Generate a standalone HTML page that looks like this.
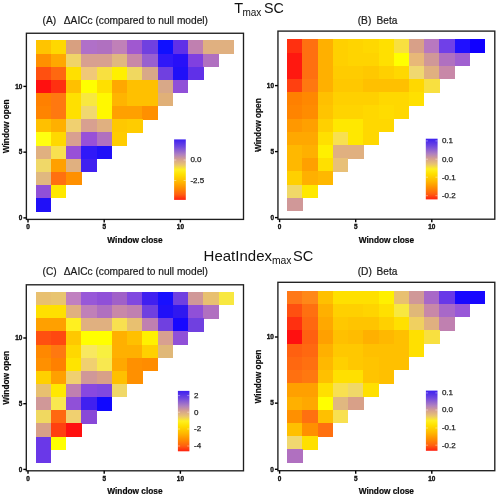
<!DOCTYPE html>
<html><head><meta charset="utf-8"><title>Heatmaps</title>
<style>
html,body{margin:0;padding:0;background:#fff;width:498px;height:497px;overflow:hidden;}
body{font-family:"Liberation Sans",sans-serif;}
svg{display:block;will-change:transform;}
</style></head><body>
<svg width="498" height="497" viewBox="0 0 498 497"><defs><linearGradient id="gA" x1="0" y1="0" x2="0" y2="1"><stop offset="0.0" stop-color="#3c20f0"/><stop offset="0.12" stop-color="#7048e0"/><stop offset="0.25" stop-color="#b080c0"/><stop offset="0.33" stop-color="#d4a090"/><stop offset="0.42" stop-color="#e8c470"/><stop offset="0.5" stop-color="#fff020"/><stop offset="0.58" stop-color="#ffe000"/><stop offset="0.7" stop-color="#ffb800"/><stop offset="0.8" stop-color="#ff9000"/><stop offset="0.91" stop-color="#ff6010"/><stop offset="1.0" stop-color="#ff2010"/></linearGradient><linearGradient id="gB" x1="0" y1="0" x2="0" y2="1"><stop offset="0.0" stop-color="#3c20f0"/><stop offset="0.12" stop-color="#7048e0"/><stop offset="0.25" stop-color="#b080c0"/><stop offset="0.33" stop-color="#d4a090"/><stop offset="0.42" stop-color="#e8c470"/><stop offset="0.5" stop-color="#fff020"/><stop offset="0.58" stop-color="#ffe000"/><stop offset="0.7" stop-color="#ffb800"/><stop offset="0.8" stop-color="#ff9000"/><stop offset="0.91" stop-color="#ff6010"/><stop offset="1.0" stop-color="#ff2010"/></linearGradient><linearGradient id="gC" x1="0" y1="0" x2="0" y2="1"><stop offset="0.0" stop-color="#3c20f0"/><stop offset="0.12" stop-color="#7048e0"/><stop offset="0.25" stop-color="#b080c0"/><stop offset="0.33" stop-color="#d4a090"/><stop offset="0.42" stop-color="#e8c470"/><stop offset="0.5" stop-color="#fff020"/><stop offset="0.58" stop-color="#ffe000"/><stop offset="0.7" stop-color="#ffb800"/><stop offset="0.8" stop-color="#ff9000"/><stop offset="0.91" stop-color="#ff6010"/><stop offset="1.0" stop-color="#ff2010"/></linearGradient><linearGradient id="gD" x1="0" y1="0" x2="0" y2="1"><stop offset="0.0" stop-color="#3c20f0"/><stop offset="0.12" stop-color="#7048e0"/><stop offset="0.25" stop-color="#b080c0"/><stop offset="0.33" stop-color="#d4a090"/><stop offset="0.42" stop-color="#e8c470"/><stop offset="0.5" stop-color="#fff020"/><stop offset="0.58" stop-color="#ffe000"/><stop offset="0.7" stop-color="#ffb800"/><stop offset="0.8" stop-color="#ff9000"/><stop offset="0.91" stop-color="#ff6010"/><stop offset="1.0" stop-color="#ff2010"/></linearGradient></defs><rect x="0" y="0" width="498" height="497" fill="#fff"/>
<text font-family="Liberation Sans, sans-serif" font-size="14.5" fill="#111" x="234.3" y="13.1">T</text>
<text font-family="Liberation Sans, sans-serif" font-size="10" fill="#111" x="242.4" y="15.7" textLength="18.9" lengthAdjust="spacingAndGlyphs">max</text>
<text font-family="Liberation Sans, sans-serif" font-size="14.3" fill="#111" x="264.0" y="13.1">SC</text>
<text font-family="Liberation Sans, sans-serif" font-size="14.3" fill="#111" x="203.6" y="261.2" textLength="68.4" lengthAdjust="spacingAndGlyphs">HeatIndex</text>
<text font-family="Liberation Sans, sans-serif" font-size="10" fill="#111" x="271.9" y="263.6" textLength="19.6" lengthAdjust="spacingAndGlyphs">max</text>
<text font-family="Liberation Sans, sans-serif" font-size="14.6" fill="#111" x="293.1" y="261.2">SC</text>
<g shape-rendering="crispEdges"><rect x="35.62" y="40.38" width="15.54" height="13.45" fill="#ffc400"/><rect x="50.86" y="40.38" width="15.54" height="13.45" fill="#ffd800"/><rect x="66.1" y="40.38" width="15.54" height="13.45" fill="#d8a080"/><rect x="81.34" y="40.38" width="15.54" height="13.45" fill="#b070c8"/><rect x="96.58" y="40.38" width="15.54" height="13.45" fill="#b070c0"/><rect x="111.82" y="40.38" width="15.54" height="13.45" fill="#c080b8"/><rect x="127.06" y="40.38" width="15.54" height="13.45" fill="#a058d0"/><rect x="142.3" y="40.38" width="15.54" height="13.45" fill="#7040e0"/><rect x="157.54" y="40.38" width="15.54" height="13.45" fill="#1010ff"/><rect x="172.78" y="40.38" width="15.54" height="13.45" fill="#6030e8"/><rect x="188.02" y="40.38" width="15.54" height="13.45" fill="#c080b0"/><rect x="203.26" y="40.38" width="15.54" height="13.45" fill="#e0b080"/><rect x="218.5" y="40.38" width="15.54" height="13.45" fill="#e0b080"/><rect x="35.62" y="53.53" width="15.54" height="13.45" fill="#ff9000"/><rect x="50.86" y="53.53" width="15.54" height="13.45" fill="#ffa800"/><rect x="66.1" y="53.53" width="15.54" height="13.45" fill="#f0d468"/><rect x="81.34" y="53.53" width="15.54" height="13.45" fill="#d8a090"/><rect x="96.58" y="53.53" width="15.54" height="13.45" fill="#d8a090"/><rect x="111.82" y="53.53" width="15.54" height="13.45" fill="#e0b880"/><rect x="127.06" y="53.53" width="15.54" height="13.45" fill="#c888a8"/><rect x="142.3" y="53.53" width="15.54" height="13.45" fill="#9860d0"/><rect x="157.54" y="53.53" width="15.54" height="13.45" fill="#3018f8"/><rect x="172.78" y="53.53" width="15.54" height="13.45" fill="#2810f8"/><rect x="188.02" y="53.53" width="15.54" height="13.45" fill="#8040e0"/><rect x="203.26" y="53.53" width="15.54" height="13.45" fill="#b070c0"/><rect x="35.62" y="66.68" width="15.54" height="13.45" fill="#ff5010"/><rect x="50.86" y="66.68" width="15.54" height="13.45" fill="#ff6810"/><rect x="66.1" y="66.68" width="15.54" height="13.45" fill="#ffe000"/><rect x="81.34" y="66.68" width="15.54" height="13.45" fill="#f0c878"/><rect x="96.58" y="66.68" width="15.54" height="13.45" fill="#f8e040"/><rect x="111.82" y="66.68" width="15.54" height="13.45" fill="#fff000"/><rect x="127.06" y="66.68" width="15.54" height="13.45" fill="#f0d860"/><rect x="142.3" y="66.68" width="15.54" height="13.45" fill="#d8a888"/><rect x="157.54" y="66.68" width="15.54" height="13.45" fill="#7040e0"/><rect x="172.78" y="66.68" width="15.54" height="13.45" fill="#2010f8"/><rect x="188.02" y="66.68" width="15.54" height="13.45" fill="#6030e8"/><rect x="35.62" y="79.82" width="15.54" height="13.45" fill="#ff1010"/><rect x="50.86" y="79.82" width="15.54" height="13.45" fill="#ff3010"/><rect x="66.1" y="79.82" width="15.54" height="13.45" fill="#ffc000"/><rect x="81.34" y="79.82" width="15.54" height="13.45" fill="#ffff00"/><rect x="96.58" y="79.82" width="15.54" height="13.45" fill="#ffe000"/><rect x="111.82" y="79.82" width="15.54" height="13.45" fill="#ffa800"/><rect x="127.06" y="79.82" width="15.54" height="13.45" fill="#ffc000"/><rect x="142.3" y="79.82" width="15.54" height="13.45" fill="#ffc000"/><rect x="157.54" y="79.82" width="15.54" height="13.45" fill="#d8a888"/><rect x="172.78" y="79.82" width="15.54" height="13.45" fill="#9050d8"/><rect x="35.62" y="92.98" width="15.54" height="13.45" fill="#ff8000"/><rect x="50.86" y="92.98" width="15.54" height="13.45" fill="#ff7810"/><rect x="66.1" y="92.98" width="15.54" height="13.45" fill="#ffe000"/><rect x="81.34" y="92.98" width="15.54" height="13.45" fill="#f8e840"/><rect x="96.58" y="92.98" width="15.54" height="13.45" fill="#fff800"/><rect x="111.82" y="92.98" width="15.54" height="13.45" fill="#ffb400"/><rect x="127.06" y="92.98" width="15.54" height="13.45" fill="#ffc000"/><rect x="142.3" y="92.98" width="15.54" height="13.45" fill="#ffc000"/><rect x="157.54" y="92.98" width="15.54" height="13.45" fill="#e0b078"/><rect x="35.62" y="106.12" width="15.54" height="13.45" fill="#ff8400"/><rect x="50.86" y="106.12" width="15.54" height="13.45" fill="#ff7810"/><rect x="66.1" y="106.12" width="15.54" height="13.45" fill="#ffe000"/><rect x="81.34" y="106.12" width="15.54" height="13.45" fill="#f0d870"/><rect x="96.58" y="106.12" width="15.54" height="13.45" fill="#fff800"/><rect x="111.82" y="106.12" width="15.54" height="13.45" fill="#ffa000"/><rect x="127.06" y="106.12" width="15.54" height="13.45" fill="#ffa000"/><rect x="142.3" y="106.12" width="15.54" height="13.45" fill="#ff9000"/><rect x="35.62" y="119.28" width="15.54" height="13.45" fill="#ffc000"/><rect x="50.86" y="119.28" width="15.54" height="13.45" fill="#ffb000"/><rect x="66.1" y="119.28" width="15.54" height="13.45" fill="#f0d070"/><rect x="81.34" y="119.28" width="15.54" height="13.45" fill="#d8a090"/><rect x="96.58" y="119.28" width="15.54" height="13.45" fill="#e0b080"/><rect x="111.82" y="119.28" width="15.54" height="13.45" fill="#ffc800"/><rect x="127.06" y="119.28" width="15.54" height="13.45" fill="#ffcc00"/><rect x="35.62" y="132.43" width="15.54" height="13.45" fill="#ffff10"/><rect x="50.86" y="132.43" width="15.54" height="13.45" fill="#ffd800"/><rect x="66.1" y="132.43" width="15.54" height="13.45" fill="#d8a090"/><rect x="81.34" y="132.43" width="15.54" height="13.45" fill="#9850d8"/><rect x="96.58" y="132.43" width="15.54" height="13.45" fill="#b070c0"/><rect x="111.82" y="132.43" width="15.54" height="13.45" fill="#ffcc00"/><rect x="35.62" y="145.57" width="15.54" height="13.45" fill="#e0b080"/><rect x="50.86" y="145.57" width="15.54" height="13.45" fill="#f8e050"/><rect x="66.1" y="145.57" width="15.54" height="13.45" fill="#9850d8"/><rect x="81.34" y="145.57" width="15.54" height="13.45" fill="#3018f8"/><rect x="96.58" y="145.57" width="15.54" height="13.45" fill="#2010f8"/><rect x="35.62" y="158.72" width="15.54" height="13.45" fill="#f0d868"/><rect x="50.86" y="158.72" width="15.54" height="13.45" fill="#ffa000"/><rect x="66.1" y="158.72" width="15.54" height="13.45" fill="#e0b080"/><rect x="81.34" y="158.72" width="15.54" height="13.45" fill="#4020f0"/><rect x="35.62" y="171.88" width="15.54" height="13.45" fill="#e0b880"/><rect x="50.86" y="171.88" width="15.54" height="13.45" fill="#ff7010"/><rect x="66.1" y="171.88" width="15.54" height="13.45" fill="#ff9000"/><rect x="35.62" y="185.03" width="15.54" height="13.45" fill="#9050d8"/><rect x="50.86" y="185.03" width="15.54" height="13.45" fill="#ffe800"/><rect x="35.62" y="198.18" width="15.54" height="13.45" fill="#2010f8"/></g>
<rect x="26.4" y="33.25" width="217.1" height="186.15" fill="none" stroke="#1e1e1e" stroke-width="1.35"/>
<line x1="23.4" y1="217.9" x2="26.4" y2="217.9" stroke="#000" stroke-width="1.4"/><line x1="28" y1="219.4" x2="28" y2="222.4" stroke="#000" stroke-width="1.4"/><line x1="23.4" y1="152.15" x2="26.4" y2="152.15" stroke="#000" stroke-width="1.4"/><line x1="104.2" y1="219.4" x2="104.2" y2="222.4" stroke="#000" stroke-width="1.4"/><line x1="23.4" y1="86.4" x2="26.4" y2="86.4" stroke="#000" stroke-width="1.4"/><line x1="180.4" y1="219.4" x2="180.4" y2="222.4" stroke="#000" stroke-width="1.4"/>
<text font-family="Liberation Sans, sans-serif" font-size="6.4" font-weight="bold" fill="#111" stroke="#111" stroke-width="0.35" text-anchor="end" x="22.4" y="220.2">0</text><text font-family="Liberation Sans, sans-serif" font-size="6.4" font-weight="bold" fill="#111" stroke="#111" stroke-width="0.35" text-anchor="middle" x="28" y="229.2">0</text><text font-family="Liberation Sans, sans-serif" font-size="6.4" font-weight="bold" fill="#111" stroke="#111" stroke-width="0.35" text-anchor="end" x="22.4" y="154.45">5</text><text font-family="Liberation Sans, sans-serif" font-size="6.4" font-weight="bold" fill="#111" stroke="#111" stroke-width="0.35" text-anchor="middle" x="104.2" y="229.2">5</text><text font-family="Liberation Sans, sans-serif" font-size="6.4" font-weight="bold" fill="#111" stroke="#111" stroke-width="0.35" text-anchor="end" x="22.4" y="88.7">10</text><text font-family="Liberation Sans, sans-serif" font-size="6.4" font-weight="bold" fill="#111" stroke="#111" stroke-width="0.35" text-anchor="middle" x="180.4" y="229.2">10</text>
<text font-family="Liberation Sans, sans-serif" font-size="8.3" font-weight="bold" fill="#0a0a0a" stroke="#0a0a0a" stroke-width="0.2" text-anchor="middle" x="134.95" y="243">Window close</text>
<text font-family="Liberation Sans, sans-serif" font-size="8.3" font-weight="bold" fill="#0a0a0a" stroke="#0a0a0a" stroke-width="0.2" text-anchor="middle" transform="translate(9.4,126.33) rotate(-90)" x="0" y="0">Window open</text>
<text font-family="Liberation Sans, sans-serif" font-size="10.2" fill="#1a1a1a" stroke="#1a1a1a" stroke-width="0.2" x="42.5" y="24.2">(A)</text>
<text font-family="Liberation Sans, sans-serif" font-size="10.1" fill="#1a1a1a" stroke="#1a1a1a" stroke-width="0.2" x="63.8" y="24.2" textLength="144.2" lengthAdjust="spacingAndGlyphs">ΔAICc (compared to null model)</text>
<rect x="174.1" y="139.4" width="11.7" height="60.5" fill="url(#gA)"/>
<text font-family="Liberation Sans, sans-serif" font-size="8" fill="#222" stroke="#222" stroke-width="0.25" x="190.4" y="162.4">0.0</text>
<line x1="174.1" y1="160" x2="176.3" y2="160" stroke="#fff" stroke-opacity="0.5" stroke-width="0.8"/>
<line x1="183.6" y1="160" x2="185.8" y2="160" stroke="#fff" stroke-opacity="0.5" stroke-width="0.8"/>
<text font-family="Liberation Sans, sans-serif" font-size="8" fill="#222" stroke="#222" stroke-width="0.25" x="190.4" y="182.9">-2.5</text>
<line x1="174.1" y1="180.5" x2="176.3" y2="180.5" stroke="#fff" stroke-opacity="0.5" stroke-width="0.8"/>
<line x1="183.6" y1="180.5" x2="185.8" y2="180.5" stroke="#fff" stroke-opacity="0.5" stroke-width="0.8"/>
<g shape-rendering="crispEdges"><rect x="287.21" y="39.4" width="15.52" height="13.5" fill="#ff3010"/><rect x="302.43" y="39.4" width="15.52" height="13.5" fill="#ff7010"/><rect x="317.65" y="39.4" width="15.52" height="13.5" fill="#ffb000"/><rect x="332.87" y="39.4" width="15.52" height="13.5" fill="#ffd000"/><rect x="348.09" y="39.4" width="15.52" height="13.5" fill="#ffd400"/><rect x="363.31" y="39.4" width="15.52" height="13.5" fill="#ffd800"/><rect x="378.53" y="39.4" width="15.52" height="13.5" fill="#ffe000"/><rect x="393.75" y="39.4" width="15.52" height="13.5" fill="#f8e040"/><rect x="408.97" y="39.4" width="15.52" height="13.5" fill="#d8a088"/><rect x="424.19" y="39.4" width="15.52" height="13.5" fill="#b878c0"/><rect x="439.41" y="39.4" width="15.52" height="13.5" fill="#7040e8"/><rect x="454.63" y="39.4" width="15.52" height="13.5" fill="#2010ff"/><rect x="469.85" y="39.4" width="15.52" height="13.5" fill="#1000ff"/><rect x="287.21" y="52.6" width="15.52" height="13.5" fill="#ff1810"/><rect x="302.43" y="52.6" width="15.52" height="13.5" fill="#ff7010"/><rect x="317.65" y="52.6" width="15.52" height="13.5" fill="#ffb000"/><rect x="332.87" y="52.6" width="15.52" height="13.5" fill="#ffd000"/><rect x="348.09" y="52.6" width="15.52" height="13.5" fill="#ffd400"/><rect x="363.31" y="52.6" width="15.52" height="13.5" fill="#ffd400"/><rect x="378.53" y="52.6" width="15.52" height="13.5" fill="#ffe000"/><rect x="393.75" y="52.6" width="15.52" height="13.5" fill="#ffff00"/><rect x="408.97" y="52.6" width="15.52" height="13.5" fill="#e8b878"/><rect x="424.19" y="52.6" width="15.52" height="13.5" fill="#d09898"/><rect x="439.41" y="52.6" width="15.52" height="13.5" fill="#b070c0"/><rect x="454.63" y="52.6" width="15.52" height="13.5" fill="#a060d0"/><rect x="287.21" y="65.8" width="15.52" height="13.5" fill="#ff1810"/><rect x="302.43" y="65.8" width="15.52" height="13.5" fill="#ff7010"/><rect x="317.65" y="65.8" width="15.52" height="13.5" fill="#ffb000"/><rect x="332.87" y="65.8" width="15.52" height="13.5" fill="#ffcc00"/><rect x="348.09" y="65.8" width="15.52" height="13.5" fill="#ffcc00"/><rect x="363.31" y="65.8" width="15.52" height="13.5" fill="#ffc800"/><rect x="378.53" y="65.8" width="15.52" height="13.5" fill="#ffd000"/><rect x="393.75" y="65.8" width="15.52" height="13.5" fill="#ffd800"/><rect x="408.97" y="65.8" width="15.52" height="13.5" fill="#f0d870"/><rect x="424.19" y="65.8" width="15.52" height="13.5" fill="#e0b080"/><rect x="439.41" y="65.8" width="15.52" height="13.5" fill="#c888a8"/><rect x="287.21" y="79" width="15.52" height="13.5" fill="#ff4010"/><rect x="302.43" y="79" width="15.52" height="13.5" fill="#ff7810"/><rect x="317.65" y="79" width="15.52" height="13.5" fill="#ffb000"/><rect x="332.87" y="79" width="15.52" height="13.5" fill="#ffc800"/><rect x="348.09" y="79" width="15.52" height="13.5" fill="#ffc800"/><rect x="363.31" y="79" width="15.52" height="13.5" fill="#ffc000"/><rect x="378.53" y="79" width="15.52" height="13.5" fill="#ffc000"/><rect x="393.75" y="79" width="15.52" height="13.5" fill="#ffc000"/><rect x="408.97" y="79" width="15.52" height="13.5" fill="#ffd800"/><rect x="424.19" y="79" width="15.52" height="13.5" fill="#f8e040"/><rect x="287.21" y="92.2" width="15.52" height="13.5" fill="#ff8000"/><rect x="302.43" y="92.2" width="15.52" height="13.5" fill="#ff8800"/><rect x="317.65" y="92.2" width="15.52" height="13.5" fill="#ffc000"/><rect x="332.87" y="92.2" width="15.52" height="13.5" fill="#ffd000"/><rect x="348.09" y="92.2" width="15.52" height="13.5" fill="#ffd000"/><rect x="363.31" y="92.2" width="15.52" height="13.5" fill="#ffd000"/><rect x="378.53" y="92.2" width="15.52" height="13.5" fill="#ffd800"/><rect x="393.75" y="92.2" width="15.52" height="13.5" fill="#ffd800"/><rect x="408.97" y="92.2" width="15.52" height="13.5" fill="#ffe000"/><rect x="287.21" y="105.4" width="15.52" height="13.5" fill="#ff8400"/><rect x="302.43" y="105.4" width="15.52" height="13.5" fill="#ff8c00"/><rect x="317.65" y="105.4" width="15.52" height="13.5" fill="#ffc400"/><rect x="332.87" y="105.4" width="15.52" height="13.5" fill="#ffd400"/><rect x="348.09" y="105.4" width="15.52" height="13.5" fill="#ffd400"/><rect x="363.31" y="105.4" width="15.52" height="13.5" fill="#ffd800"/><rect x="378.53" y="105.4" width="15.52" height="13.5" fill="#ffdc00"/><rect x="393.75" y="105.4" width="15.52" height="13.5" fill="#ffd800"/><rect x="287.21" y="118.6" width="15.52" height="13.5" fill="#ff9800"/><rect x="302.43" y="118.6" width="15.52" height="13.5" fill="#ffa000"/><rect x="317.65" y="118.6" width="15.52" height="13.5" fill="#ffd000"/><rect x="332.87" y="118.6" width="15.52" height="13.5" fill="#ffe800"/><rect x="348.09" y="118.6" width="15.52" height="13.5" fill="#ffe800"/><rect x="363.31" y="118.6" width="15.52" height="13.5" fill="#ffd800"/><rect x="378.53" y="118.6" width="15.52" height="13.5" fill="#ffd800"/><rect x="287.21" y="131.8" width="15.52" height="13.5" fill="#ffa800"/><rect x="302.43" y="131.8" width="15.52" height="13.5" fill="#ffa800"/><rect x="317.65" y="131.8" width="15.52" height="13.5" fill="#ffe000"/><rect x="332.87" y="131.8" width="15.52" height="13.5" fill="#f8e050"/><rect x="348.09" y="131.8" width="15.52" height="13.5" fill="#ffe800"/><rect x="363.31" y="131.8" width="15.52" height="13.5" fill="#ffd800"/><rect x="287.21" y="145" width="15.52" height="13.5" fill="#ffb800"/><rect x="302.43" y="145" width="15.52" height="13.5" fill="#ffb000"/><rect x="317.65" y="145" width="15.52" height="13.5" fill="#fff000"/><rect x="332.87" y="145" width="15.52" height="13.5" fill="#e0b080"/><rect x="348.09" y="145" width="15.52" height="13.5" fill="#e0b080"/><rect x="287.21" y="158.2" width="15.52" height="13.5" fill="#ffb800"/><rect x="302.43" y="158.2" width="15.52" height="13.5" fill="#ffa000"/><rect x="317.65" y="158.2" width="15.52" height="13.5" fill="#ffe000"/><rect x="332.87" y="158.2" width="15.52" height="13.5" fill="#e8c078"/><rect x="287.21" y="171.4" width="15.52" height="13.5" fill="#ffd000"/><rect x="302.43" y="171.4" width="15.52" height="13.5" fill="#ffb000"/><rect x="317.65" y="171.4" width="15.52" height="13.5" fill="#ffb800"/><rect x="287.21" y="184.6" width="15.52" height="13.5" fill="#f0d868"/><rect x="302.43" y="184.6" width="15.52" height="13.5" fill="#ffe800"/><rect x="287.21" y="197.8" width="15.52" height="13.5" fill="#d09898"/></g>
<rect x="277.95" y="31.1" width="216.85" height="188.1" fill="none" stroke="#1e1e1e" stroke-width="1.35"/>
<line x1="274.95" y1="217.6" x2="277.95" y2="217.6" stroke="#000" stroke-width="1.4"/><line x1="279.6" y1="219.2" x2="279.6" y2="222.2" stroke="#000" stroke-width="1.4"/><line x1="274.95" y1="151.6" x2="277.95" y2="151.6" stroke="#000" stroke-width="1.4"/><line x1="355.7" y1="219.2" x2="355.7" y2="222.2" stroke="#000" stroke-width="1.4"/><line x1="274.95" y1="85.6" x2="277.95" y2="85.6" stroke="#000" stroke-width="1.4"/><line x1="431.8" y1="219.2" x2="431.8" y2="222.2" stroke="#000" stroke-width="1.4"/>
<text font-family="Liberation Sans, sans-serif" font-size="6.4" font-weight="bold" fill="#111" stroke="#111" stroke-width="0.35" text-anchor="end" x="273.95" y="219.9">0</text><text font-family="Liberation Sans, sans-serif" font-size="6.4" font-weight="bold" fill="#111" stroke="#111" stroke-width="0.35" text-anchor="middle" x="279.6" y="229">0</text><text font-family="Liberation Sans, sans-serif" font-size="6.4" font-weight="bold" fill="#111" stroke="#111" stroke-width="0.35" text-anchor="end" x="273.95" y="153.9">5</text><text font-family="Liberation Sans, sans-serif" font-size="6.4" font-weight="bold" fill="#111" stroke="#111" stroke-width="0.35" text-anchor="middle" x="355.7" y="229">5</text><text font-family="Liberation Sans, sans-serif" font-size="6.4" font-weight="bold" fill="#111" stroke="#111" stroke-width="0.35" text-anchor="end" x="273.95" y="87.9">10</text><text font-family="Liberation Sans, sans-serif" font-size="6.4" font-weight="bold" fill="#111" stroke="#111" stroke-width="0.35" text-anchor="middle" x="431.8" y="229">10</text>
<text font-family="Liberation Sans, sans-serif" font-size="8.3" font-weight="bold" fill="#0a0a0a" stroke="#0a0a0a" stroke-width="0.2" text-anchor="middle" x="386.38" y="242.8">Window close</text>
<text font-family="Liberation Sans, sans-serif" font-size="8.3" font-weight="bold" fill="#0a0a0a" stroke="#0a0a0a" stroke-width="0.2" text-anchor="middle" transform="translate(260.95,125.15) rotate(-90)" x="0" y="0">Window open</text>
<text font-family="Liberation Sans, sans-serif" font-size="10.2" fill="#1a1a1a" stroke="#1a1a1a" stroke-width="0.2" x="357.7" y="23.6">(B)</text>
<text font-family="Liberation Sans, sans-serif" font-size="10.1" fill="#1a1a1a" stroke="#1a1a1a" stroke-width="0.2" x="376.6" y="23.6" >Beta</text>
<rect x="425.8" y="138.7" width="11.8" height="60.7" fill="url(#gB)"/>
<text font-family="Liberation Sans, sans-serif" font-size="8" fill="#222" stroke="#222" stroke-width="0.25" x="441.9" y="143.3">0.1</text>
<line x1="425.8" y1="140.9" x2="428" y2="140.9" stroke="#fff" stroke-opacity="0.5" stroke-width="0.8"/>
<line x1="435.4" y1="140.9" x2="437.6" y2="140.9" stroke="#fff" stroke-opacity="0.5" stroke-width="0.8"/>
<text font-family="Liberation Sans, sans-serif" font-size="8" fill="#222" stroke="#222" stroke-width="0.25" x="441.9" y="161.6">0.0</text>
<line x1="425.8" y1="159.2" x2="428" y2="159.2" stroke="#fff" stroke-opacity="0.5" stroke-width="0.8"/>
<line x1="435.4" y1="159.2" x2="437.6" y2="159.2" stroke="#fff" stroke-opacity="0.5" stroke-width="0.8"/>
<text font-family="Liberation Sans, sans-serif" font-size="8" fill="#222" stroke="#222" stroke-width="0.25" x="441.9" y="179.6">-0.1</text>
<line x1="425.8" y1="177.2" x2="428" y2="177.2" stroke="#fff" stroke-opacity="0.5" stroke-width="0.8"/>
<line x1="435.4" y1="177.2" x2="437.6" y2="177.2" stroke="#fff" stroke-opacity="0.5" stroke-width="0.8"/>
<text font-family="Liberation Sans, sans-serif" font-size="8" fill="#222" stroke="#222" stroke-width="0.25" x="441.9" y="198.1">-0.2</text>
<line x1="425.8" y1="195.7" x2="428" y2="195.7" stroke="#fff" stroke-opacity="0.5" stroke-width="0.8"/>
<line x1="435.4" y1="195.7" x2="437.6" y2="195.7" stroke="#fff" stroke-opacity="0.5" stroke-width="0.8"/>
<g shape-rendering="crispEdges"><rect x="35.62" y="292.01" width="15.54" height="13.44" fill="#e8c070"/><rect x="50.86" y="292.01" width="15.54" height="13.44" fill="#e8c470"/><rect x="66.1" y="292.01" width="15.54" height="13.44" fill="#c080c0"/><rect x="81.34" y="292.01" width="15.54" height="13.44" fill="#9858d8"/><rect x="96.58" y="292.01" width="15.54" height="13.44" fill="#9050d8"/><rect x="111.82" y="292.01" width="15.54" height="13.44" fill="#a060c8"/><rect x="127.06" y="292.01" width="15.54" height="13.44" fill="#8048e0"/><rect x="142.3" y="292.01" width="15.54" height="13.44" fill="#4020f0"/><rect x="157.54" y="292.01" width="15.54" height="13.44" fill="#1810ff"/><rect x="172.78" y="292.01" width="15.54" height="13.44" fill="#7040e0"/><rect x="188.02" y="292.01" width="15.54" height="13.44" fill="#d09898"/><rect x="203.26" y="292.01" width="15.54" height="13.44" fill="#e8c070"/><rect x="218.5" y="292.01" width="15.54" height="13.44" fill="#f8e840"/><rect x="35.62" y="305.15" width="15.54" height="13.44" fill="#ffe000"/><rect x="50.86" y="305.15" width="15.54" height="13.44" fill="#ffe000"/><rect x="66.1" y="305.15" width="15.54" height="13.44" fill="#e0b080"/><rect x="81.34" y="305.15" width="15.54" height="13.44" fill="#c080b8"/><rect x="96.58" y="305.15" width="15.54" height="13.44" fill="#b070c0"/><rect x="111.82" y="305.15" width="15.54" height="13.44" fill="#c888a8"/><rect x="127.06" y="305.15" width="15.54" height="13.44" fill="#c080b0"/><rect x="142.3" y="305.15" width="15.54" height="13.44" fill="#7040e0"/><rect x="157.54" y="305.15" width="15.54" height="13.44" fill="#2010f8"/><rect x="172.78" y="305.15" width="15.54" height="13.44" fill="#3018f0"/><rect x="188.02" y="305.15" width="15.54" height="13.44" fill="#9050d8"/><rect x="203.26" y="305.15" width="15.54" height="13.44" fill="#b070c0"/><rect x="35.62" y="318.29" width="15.54" height="13.44" fill="#ffa000"/><rect x="50.86" y="318.29" width="15.54" height="13.44" fill="#ffa000"/><rect x="66.1" y="318.29" width="15.54" height="13.44" fill="#fff020"/><rect x="81.34" y="318.29" width="15.54" height="13.44" fill="#e0b080"/><rect x="96.58" y="318.29" width="15.54" height="13.44" fill="#e0b080"/><rect x="111.82" y="318.29" width="15.54" height="13.44" fill="#f8e050"/><rect x="127.06" y="318.29" width="15.54" height="13.44" fill="#e8c070"/><rect x="142.3" y="318.29" width="15.54" height="13.44" fill="#c080b0"/><rect x="157.54" y="318.29" width="15.54" height="13.44" fill="#7040e0"/><rect x="172.78" y="318.29" width="15.54" height="13.44" fill="#1808ff"/><rect x="188.02" y="318.29" width="15.54" height="13.44" fill="#7040e0"/><rect x="35.62" y="331.43" width="15.54" height="13.44" fill="#ff5010"/><rect x="50.86" y="331.43" width="15.54" height="13.44" fill="#ff4810"/><rect x="66.1" y="331.43" width="15.54" height="13.44" fill="#ffc800"/><rect x="81.34" y="331.43" width="15.54" height="13.44" fill="#ffff00"/><rect x="96.58" y="331.43" width="15.54" height="13.44" fill="#ffff00"/><rect x="111.82" y="331.43" width="15.54" height="13.44" fill="#ffb000"/><rect x="127.06" y="331.43" width="15.54" height="13.44" fill="#ffc000"/><rect x="142.3" y="331.43" width="15.54" height="13.44" fill="#fff000"/><rect x="157.54" y="331.43" width="15.54" height="13.44" fill="#d8a090"/><rect x="172.78" y="331.43" width="15.54" height="13.44" fill="#9050d8"/><rect x="35.62" y="344.57" width="15.54" height="13.44" fill="#ff8800"/><rect x="50.86" y="344.57" width="15.54" height="13.44" fill="#ff7810"/><rect x="66.1" y="344.57" width="15.54" height="13.44" fill="#ffd800"/><rect x="81.34" y="344.57" width="15.54" height="13.44" fill="#f8e860"/><rect x="96.58" y="344.57" width="15.54" height="13.44" fill="#f8f040"/><rect x="111.82" y="344.57" width="15.54" height="13.44" fill="#ffb000"/><rect x="127.06" y="344.57" width="15.54" height="13.44" fill="#ffb000"/><rect x="142.3" y="344.57" width="15.54" height="13.44" fill="#ffd000"/><rect x="157.54" y="344.57" width="15.54" height="13.44" fill="#e0b878"/><rect x="35.62" y="357.71" width="15.54" height="13.44" fill="#ff9000"/><rect x="50.86" y="357.71" width="15.54" height="13.44" fill="#ff8000"/><rect x="66.1" y="357.71" width="15.54" height="13.44" fill="#ffe400"/><rect x="81.34" y="357.71" width="15.54" height="13.44" fill="#f0d070"/><rect x="96.58" y="357.71" width="15.54" height="13.44" fill="#f8e850"/><rect x="111.82" y="357.71" width="15.54" height="13.44" fill="#ffa800"/><rect x="127.06" y="357.71" width="15.54" height="13.44" fill="#ff9000"/><rect x="142.3" y="357.71" width="15.54" height="13.44" fill="#ff8c00"/><rect x="35.62" y="370.85" width="15.54" height="13.44" fill="#ffd000"/><rect x="50.86" y="370.85" width="15.54" height="13.44" fill="#ffa000"/><rect x="66.1" y="370.85" width="15.54" height="13.44" fill="#f0d070"/><rect x="81.34" y="370.85" width="15.54" height="13.44" fill="#d09898"/><rect x="96.58" y="370.85" width="15.54" height="13.44" fill="#d8a088"/><rect x="111.82" y="370.85" width="15.54" height="13.44" fill="#ffc000"/><rect x="127.06" y="370.85" width="15.54" height="13.44" fill="#ff9000"/><rect x="35.62" y="383.99" width="15.54" height="13.44" fill="#e8c070"/><rect x="50.86" y="383.99" width="15.54" height="13.44" fill="#ffe800"/><rect x="66.1" y="383.99" width="15.54" height="13.44" fill="#c080b0"/><rect x="81.34" y="383.99" width="15.54" height="13.44" fill="#8848e0"/><rect x="96.58" y="383.99" width="15.54" height="13.44" fill="#8048e0"/><rect x="111.82" y="383.99" width="15.54" height="13.44" fill="#f0d868"/><rect x="35.62" y="397.13" width="15.54" height="13.44" fill="#d09898"/><rect x="50.86" y="397.13" width="15.54" height="13.44" fill="#f8e850"/><rect x="66.1" y="397.13" width="15.54" height="13.44" fill="#9050d8"/><rect x="81.34" y="397.13" width="15.54" height="13.44" fill="#4020f0"/><rect x="96.58" y="397.13" width="15.54" height="13.44" fill="#1008ff"/><rect x="35.62" y="410.27" width="15.54" height="13.44" fill="#f0d860"/><rect x="50.86" y="410.27" width="15.54" height="13.44" fill="#ff6810"/><rect x="66.1" y="410.27" width="15.54" height="13.44" fill="#f0d070"/><rect x="81.34" y="410.27" width="15.54" height="13.44" fill="#8848d8"/><rect x="35.62" y="423.41" width="15.54" height="13.44" fill="#d8a088"/><rect x="50.86" y="423.41" width="15.54" height="13.44" fill="#ff4010"/><rect x="66.1" y="423.41" width="15.54" height="13.44" fill="#ff1010"/><rect x="35.62" y="436.55" width="15.54" height="13.44" fill="#6a38e8"/><rect x="50.86" y="436.55" width="15.54" height="13.44" fill="#ffff00"/><rect x="35.62" y="449.69" width="15.54" height="13.44" fill="#6a38e8"/></g>
<rect x="26.3" y="284.8" width="217.2" height="186" fill="none" stroke="#1e1e1e" stroke-width="1.35"/>
<line x1="23.3" y1="469.4" x2="26.3" y2="469.4" stroke="#000" stroke-width="1.4"/><line x1="28" y1="470.8" x2="28" y2="473.8" stroke="#000" stroke-width="1.4"/><line x1="23.3" y1="403.7" x2="26.3" y2="403.7" stroke="#000" stroke-width="1.4"/><line x1="104.2" y1="470.8" x2="104.2" y2="473.8" stroke="#000" stroke-width="1.4"/><line x1="23.3" y1="338" x2="26.3" y2="338" stroke="#000" stroke-width="1.4"/><line x1="180.4" y1="470.8" x2="180.4" y2="473.8" stroke="#000" stroke-width="1.4"/>
<text font-family="Liberation Sans, sans-serif" font-size="6.4" font-weight="bold" fill="#111" stroke="#111" stroke-width="0.35" text-anchor="end" x="22.3" y="471.7">0</text><text font-family="Liberation Sans, sans-serif" font-size="6.4" font-weight="bold" fill="#111" stroke="#111" stroke-width="0.35" text-anchor="middle" x="28" y="480.6">0</text><text font-family="Liberation Sans, sans-serif" font-size="6.4" font-weight="bold" fill="#111" stroke="#111" stroke-width="0.35" text-anchor="end" x="22.3" y="406">5</text><text font-family="Liberation Sans, sans-serif" font-size="6.4" font-weight="bold" fill="#111" stroke="#111" stroke-width="0.35" text-anchor="middle" x="104.2" y="480.6">5</text><text font-family="Liberation Sans, sans-serif" font-size="6.4" font-weight="bold" fill="#111" stroke="#111" stroke-width="0.35" text-anchor="end" x="22.3" y="340.3">10</text><text font-family="Liberation Sans, sans-serif" font-size="6.4" font-weight="bold" fill="#111" stroke="#111" stroke-width="0.35" text-anchor="middle" x="180.4" y="480.6">10</text>
<text font-family="Liberation Sans, sans-serif" font-size="8.3" font-weight="bold" fill="#0a0a0a" stroke="#0a0a0a" stroke-width="0.2" text-anchor="middle" x="134.9" y="494.4">Window close</text>
<text font-family="Liberation Sans, sans-serif" font-size="8.3" font-weight="bold" fill="#0a0a0a" stroke="#0a0a0a" stroke-width="0.2" text-anchor="middle" transform="translate(9.3,377.8) rotate(-90)" x="0" y="0">Window open</text>
<text font-family="Liberation Sans, sans-serif" font-size="10.2" fill="#1a1a1a" stroke="#1a1a1a" stroke-width="0.2" x="42.5" y="275.4">(C)</text>
<text font-family="Liberation Sans, sans-serif" font-size="10.1" fill="#1a1a1a" stroke="#1a1a1a" stroke-width="0.2" x="63.8" y="275.4" textLength="144.2" lengthAdjust="spacingAndGlyphs">ΔAICc (compared to null model)</text>
<rect x="177.9" y="390.9" width="11.5" height="60.4" fill="url(#gC)"/>
<text font-family="Liberation Sans, sans-serif" font-size="8" fill="#222" stroke="#222" stroke-width="0.25" x="194" y="398">2</text>
<line x1="177.9" y1="395.6" x2="180.1" y2="395.6" stroke="#fff" stroke-opacity="0.5" stroke-width="0.8"/>
<line x1="187.2" y1="395.6" x2="189.4" y2="395.6" stroke="#fff" stroke-opacity="0.5" stroke-width="0.8"/>
<text font-family="Liberation Sans, sans-serif" font-size="8" fill="#222" stroke="#222" stroke-width="0.25" x="194" y="414.6">0</text>
<line x1="177.9" y1="412.2" x2="180.1" y2="412.2" stroke="#fff" stroke-opacity="0.5" stroke-width="0.8"/>
<line x1="187.2" y1="412.2" x2="189.4" y2="412.2" stroke="#fff" stroke-opacity="0.5" stroke-width="0.8"/>
<text font-family="Liberation Sans, sans-serif" font-size="8" fill="#222" stroke="#222" stroke-width="0.25" x="194" y="431.4">-2</text>
<line x1="177.9" y1="429" x2="180.1" y2="429" stroke="#fff" stroke-opacity="0.5" stroke-width="0.8"/>
<line x1="187.2" y1="429" x2="189.4" y2="429" stroke="#fff" stroke-opacity="0.5" stroke-width="0.8"/>
<text font-family="Liberation Sans, sans-serif" font-size="8" fill="#222" stroke="#222" stroke-width="0.25" x="194" y="448.4">-4</text>
<line x1="177.9" y1="446" x2="180.1" y2="446" stroke="#fff" stroke-opacity="0.5" stroke-width="0.8"/>
<line x1="187.2" y1="446" x2="189.4" y2="446" stroke="#fff" stroke-opacity="0.5" stroke-width="0.8"/>
<g shape-rendering="crispEdges"><rect x="287.21" y="290.69" width="15.52" height="13.53" fill="#ff7818"/><rect x="302.43" y="290.69" width="15.52" height="13.53" fill="#ff8818"/><rect x="317.65" y="290.69" width="15.52" height="13.53" fill="#ffc000"/><rect x="332.87" y="290.69" width="15.52" height="13.53" fill="#ffe000"/><rect x="348.09" y="290.69" width="15.52" height="13.53" fill="#ffe000"/><rect x="363.31" y="290.69" width="15.52" height="13.53" fill="#ffe000"/><rect x="378.53" y="290.69" width="15.52" height="13.53" fill="#fff000"/><rect x="393.75" y="290.69" width="15.52" height="13.53" fill="#e8c070"/><rect x="408.97" y="290.69" width="15.52" height="13.53" fill="#d09898"/><rect x="424.19" y="290.69" width="15.52" height="13.53" fill="#a868c8"/><rect x="439.41" y="290.69" width="15.52" height="13.53" fill="#6838e8"/><rect x="454.63" y="290.69" width="15.52" height="13.53" fill="#1808ff"/><rect x="469.85" y="290.69" width="15.52" height="13.53" fill="#1808ff"/><rect x="287.21" y="303.93" width="15.52" height="13.53" fill="#ff5010"/><rect x="302.43" y="303.93" width="15.52" height="13.53" fill="#ff7010"/><rect x="317.65" y="303.93" width="15.52" height="13.53" fill="#ffb000"/><rect x="332.87" y="303.93" width="15.52" height="13.53" fill="#ffd000"/><rect x="348.09" y="303.93" width="15.52" height="13.53" fill="#ffd000"/><rect x="363.31" y="303.93" width="15.52" height="13.53" fill="#ffd400"/><rect x="378.53" y="303.93" width="15.52" height="13.53" fill="#ffe000"/><rect x="393.75" y="303.93" width="15.52" height="13.53" fill="#f8e840"/><rect x="408.97" y="303.93" width="15.52" height="13.53" fill="#e0b878"/><rect x="424.19" y="303.93" width="15.52" height="13.53" fill="#c888a8"/><rect x="439.41" y="303.93" width="15.52" height="13.53" fill="#a868c8"/><rect x="454.63" y="303.93" width="15.52" height="13.53" fill="#9858d8"/><rect x="287.21" y="317.15" width="15.52" height="13.53" fill="#ff3010"/><rect x="302.43" y="317.15" width="15.52" height="13.53" fill="#ff6810"/><rect x="317.65" y="317.15" width="15.52" height="13.53" fill="#ffa800"/><rect x="332.87" y="317.15" width="15.52" height="13.53" fill="#ffc800"/><rect x="348.09" y="317.15" width="15.52" height="13.53" fill="#ffc400"/><rect x="363.31" y="317.15" width="15.52" height="13.53" fill="#ffc400"/><rect x="378.53" y="317.15" width="15.52" height="13.53" fill="#ffd000"/><rect x="393.75" y="317.15" width="15.52" height="13.53" fill="#ffe000"/><rect x="408.97" y="317.15" width="15.52" height="13.53" fill="#f0d060"/><rect x="424.19" y="317.15" width="15.52" height="13.53" fill="#e0b080"/><rect x="439.41" y="317.15" width="15.52" height="13.53" fill="#c080b0"/><rect x="287.21" y="330.38" width="15.52" height="13.53" fill="#ff1010"/><rect x="302.43" y="330.38" width="15.52" height="13.53" fill="#ff6010"/><rect x="317.65" y="330.38" width="15.52" height="13.53" fill="#ffa000"/><rect x="332.87" y="330.38" width="15.52" height="13.53" fill="#ffc000"/><rect x="348.09" y="330.38" width="15.52" height="13.53" fill="#ffbc00"/><rect x="363.31" y="330.38" width="15.52" height="13.53" fill="#ffb000"/><rect x="378.53" y="330.38" width="15.52" height="13.53" fill="#ffb800"/><rect x="393.75" y="330.38" width="15.52" height="13.53" fill="#ffc000"/><rect x="408.97" y="330.38" width="15.52" height="13.53" fill="#ffe000"/><rect x="424.19" y="330.38" width="15.52" height="13.53" fill="#f8e040"/><rect x="287.21" y="343.62" width="15.52" height="13.53" fill="#ff6010"/><rect x="302.43" y="343.62" width="15.52" height="13.53" fill="#ff6810"/><rect x="317.65" y="343.62" width="15.52" height="13.53" fill="#ffb000"/><rect x="332.87" y="343.62" width="15.52" height="13.53" fill="#ffc800"/><rect x="348.09" y="343.62" width="15.52" height="13.53" fill="#ffc800"/><rect x="363.31" y="343.62" width="15.52" height="13.53" fill="#ffc000"/><rect x="378.53" y="343.62" width="15.52" height="13.53" fill="#ffc000"/><rect x="393.75" y="343.62" width="15.52" height="13.53" fill="#ffc000"/><rect x="408.97" y="343.62" width="15.52" height="13.53" fill="#ffe000"/><rect x="287.21" y="356.85" width="15.52" height="13.53" fill="#ff6810"/><rect x="302.43" y="356.85" width="15.52" height="13.53" fill="#ff7010"/><rect x="317.65" y="356.85" width="15.52" height="13.53" fill="#ffb800"/><rect x="332.87" y="356.85" width="15.52" height="13.53" fill="#ffd000"/><rect x="348.09" y="356.85" width="15.52" height="13.53" fill="#ffc800"/><rect x="363.31" y="356.85" width="15.52" height="13.53" fill="#ffc400"/><rect x="378.53" y="356.85" width="15.52" height="13.53" fill="#ffc000"/><rect x="393.75" y="356.85" width="15.52" height="13.53" fill="#ffc000"/><rect x="287.21" y="370.07" width="15.52" height="13.53" fill="#ff7010"/><rect x="302.43" y="370.07" width="15.52" height="13.53" fill="#ff7810"/><rect x="317.65" y="370.07" width="15.52" height="13.53" fill="#ffc000"/><rect x="332.87" y="370.07" width="15.52" height="13.53" fill="#ffe000"/><rect x="348.09" y="370.07" width="15.52" height="13.53" fill="#ffe000"/><rect x="363.31" y="370.07" width="15.52" height="13.53" fill="#ffc400"/><rect x="378.53" y="370.07" width="15.52" height="13.53" fill="#ffc000"/><rect x="287.21" y="383.31" width="15.52" height="13.53" fill="#ffa000"/><rect x="302.43" y="383.31" width="15.52" height="13.53" fill="#ffa000"/><rect x="317.65" y="383.31" width="15.52" height="13.53" fill="#ffe000"/><rect x="332.87" y="383.31" width="15.52" height="13.53" fill="#f8e050"/><rect x="348.09" y="383.31" width="15.52" height="13.53" fill="#f0d868"/><rect x="363.31" y="383.31" width="15.52" height="13.53" fill="#ffe000"/><rect x="287.21" y="396.54" width="15.52" height="13.53" fill="#ffb000"/><rect x="302.43" y="396.54" width="15.52" height="13.53" fill="#ffa800"/><rect x="317.65" y="396.54" width="15.52" height="13.53" fill="#ffff00"/><rect x="332.87" y="396.54" width="15.52" height="13.53" fill="#e0b880"/><rect x="348.09" y="396.54" width="15.52" height="13.53" fill="#d8a088"/><rect x="287.21" y="409.76" width="15.52" height="13.53" fill="#ff9000"/><rect x="302.43" y="409.76" width="15.52" height="13.53" fill="#ff7010"/><rect x="317.65" y="409.76" width="15.52" height="13.53" fill="#ffc000"/><rect x="332.87" y="409.76" width="15.52" height="13.53" fill="#f8e050"/><rect x="287.21" y="423" width="15.52" height="13.53" fill="#ffc000"/><rect x="302.43" y="423" width="15.52" height="13.53" fill="#ff9000"/><rect x="317.65" y="423" width="15.52" height="13.53" fill="#ff7010"/><rect x="287.21" y="436.23" width="15.52" height="13.53" fill="#f0d870"/><rect x="302.43" y="436.23" width="15.52" height="13.53" fill="#ffe000"/><rect x="287.21" y="449.46" width="15.52" height="13.53" fill="#b070c0"/></g>
<rect x="277.9" y="282.3" width="216.9" height="188.4" fill="none" stroke="#1e1e1e" stroke-width="1.35"/>
<line x1="274.9" y1="469.3" x2="277.9" y2="469.3" stroke="#000" stroke-width="1.4"/><line x1="279.6" y1="470.7" x2="279.6" y2="473.7" stroke="#000" stroke-width="1.4"/><line x1="274.9" y1="403.15" x2="277.9" y2="403.15" stroke="#000" stroke-width="1.4"/><line x1="355.7" y1="470.7" x2="355.7" y2="473.7" stroke="#000" stroke-width="1.4"/><line x1="274.9" y1="337" x2="277.9" y2="337" stroke="#000" stroke-width="1.4"/><line x1="431.8" y1="470.7" x2="431.8" y2="473.7" stroke="#000" stroke-width="1.4"/>
<text font-family="Liberation Sans, sans-serif" font-size="6.4" font-weight="bold" fill="#111" stroke="#111" stroke-width="0.35" text-anchor="end" x="273.9" y="471.6">0</text><text font-family="Liberation Sans, sans-serif" font-size="6.4" font-weight="bold" fill="#111" stroke="#111" stroke-width="0.35" text-anchor="middle" x="279.6" y="480.5">0</text><text font-family="Liberation Sans, sans-serif" font-size="6.4" font-weight="bold" fill="#111" stroke="#111" stroke-width="0.35" text-anchor="end" x="273.9" y="405.45">5</text><text font-family="Liberation Sans, sans-serif" font-size="6.4" font-weight="bold" fill="#111" stroke="#111" stroke-width="0.35" text-anchor="middle" x="355.7" y="480.5">5</text><text font-family="Liberation Sans, sans-serif" font-size="6.4" font-weight="bold" fill="#111" stroke="#111" stroke-width="0.35" text-anchor="end" x="273.9" y="339.3">10</text><text font-family="Liberation Sans, sans-serif" font-size="6.4" font-weight="bold" fill="#111" stroke="#111" stroke-width="0.35" text-anchor="middle" x="431.8" y="480.5">10</text>
<text font-family="Liberation Sans, sans-serif" font-size="8.3" font-weight="bold" fill="#0a0a0a" stroke="#0a0a0a" stroke-width="0.2" text-anchor="middle" x="386.35" y="494.3">Window close</text>
<text font-family="Liberation Sans, sans-serif" font-size="8.3" font-weight="bold" fill="#0a0a0a" stroke="#0a0a0a" stroke-width="0.2" text-anchor="middle" transform="translate(260.9,376.5) rotate(-90)" x="0" y="0">Window open</text>
<text font-family="Liberation Sans, sans-serif" font-size="10.2" fill="#1a1a1a" stroke="#1a1a1a" stroke-width="0.2" x="357.7" y="274.9">(D)</text>
<text font-family="Liberation Sans, sans-serif" font-size="10.1" fill="#1a1a1a" stroke="#1a1a1a" stroke-width="0.2" x="376.6" y="274.9" >Beta</text>
<rect x="425.9" y="390.6" width="11.6" height="60.2" fill="url(#gD)"/>
<text font-family="Liberation Sans, sans-serif" font-size="8" fill="#222" stroke="#222" stroke-width="0.25" x="441.9" y="395.3">0.1</text>
<line x1="425.9" y1="392.9" x2="428.1" y2="392.9" stroke="#fff" stroke-opacity="0.5" stroke-width="0.8"/>
<line x1="435.3" y1="392.9" x2="437.5" y2="392.9" stroke="#fff" stroke-opacity="0.5" stroke-width="0.8"/>
<text font-family="Liberation Sans, sans-serif" font-size="8" fill="#222" stroke="#222" stroke-width="0.25" x="441.9" y="412.4">0.0</text>
<line x1="425.9" y1="410" x2="428.1" y2="410" stroke="#fff" stroke-opacity="0.5" stroke-width="0.8"/>
<line x1="435.3" y1="410" x2="437.5" y2="410" stroke="#fff" stroke-opacity="0.5" stroke-width="0.8"/>
<text font-family="Liberation Sans, sans-serif" font-size="8" fill="#222" stroke="#222" stroke-width="0.25" x="441.9" y="430.4">-0.1</text>
<line x1="425.9" y1="428" x2="428.1" y2="428" stroke="#fff" stroke-opacity="0.5" stroke-width="0.8"/>
<line x1="435.3" y1="428" x2="437.5" y2="428" stroke="#fff" stroke-opacity="0.5" stroke-width="0.8"/>
<text font-family="Liberation Sans, sans-serif" font-size="8" fill="#222" stroke="#222" stroke-width="0.25" x="441.9" y="447.6">-0.2</text>
<line x1="425.9" y1="445.2" x2="428.1" y2="445.2" stroke="#fff" stroke-opacity="0.5" stroke-width="0.8"/>
<line x1="435.3" y1="445.2" x2="437.5" y2="445.2" stroke="#fff" stroke-opacity="0.5" stroke-width="0.8"/></svg>
</body></html>
